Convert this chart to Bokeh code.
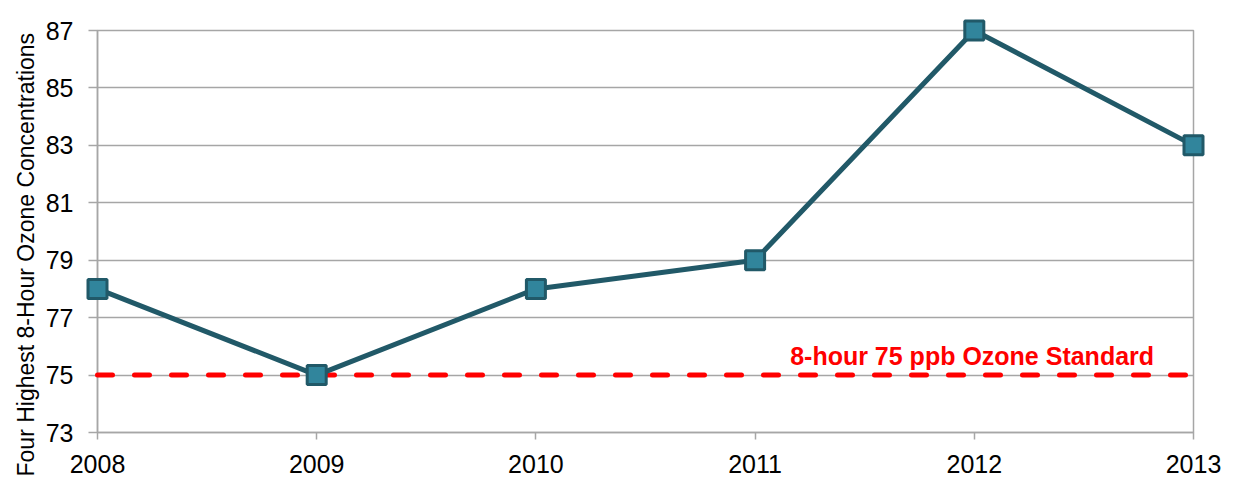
from bokeh.plotting import figure
from bokeh.models import Range1d, FixedTicker, Title, Label
from bokeh.embed import file_html
from bokeh.resources import INLINE

years = [2008, 2009, 2010, 2011, 2012, 2013]
ozone = [78, 75, 78, 79, 87, 83]
standard_years = [2008, 2013]
standard_value = [75, 75]
y_ticks = [73, 75, 77, 79, 81, 83, 85, 87]
y_label = "Four Highest 8-Hour Ozone Concentrations"
standard_label = "8-hour 75 ppb Ozone Standard"

FONT = "Liberation Sans"
GRID = "#A6A6A6"

p = figure(width=1230, height=495, output_backend="svg", toolbar_location=None,
           x_range=Range1d(2008, 2013), y_range=Range1d(73, 87),
           min_border_left=97, min_border_right=37, min_border_top=30, min_border_bottom=63)

p.background_fill_color = "white"
p.border_fill_color = "white"
p.outline_line_color = GRID
p.outline_line_width = 1.5

p.xgrid.visible = False
p.ygrid.ticker = FixedTicker(ticks=y_ticks)
p.ygrid.grid_line_color = GRID
p.ygrid.grid_line_width = 1.5

p.xaxis.ticker = FixedTicker(ticks=years)
p.yaxis.ticker = FixedTicker(ticks=y_ticks)
for ax in (p.xaxis, p.yaxis):
    ax.axis_line_color = GRID
    ax.axis_line_width = 1.5
    ax.major_tick_line_color = GRID
    ax.major_tick_line_width = 1.5
    ax.major_tick_in = 0
    ax.minor_tick_line_color = None
    ax.major_label_text_font = FONT
    ax.major_label_text_font_size = "25px"
    ax.major_label_text_color = "black"
p.xaxis.major_tick_out = 7
p.xaxis.major_label_standoff = 15
p.yaxis.major_tick_out = 9
p.yaxis.major_label_standoff = 15

title = Title(text=y_label, align="left", offset=-44, text_font=FONT,
              text_font_size="23px", text_font_style="normal", text_color="black",
              standoff=8)
p.add_layout(title, "left")

p.line(standard_years, standard_value, line_color="#FF0000", line_width=5,
       line_dash="15 22", line_cap="round", level="overlay")
p.line(years, ozone, line_color="#215968", line_width=5, level="overlay")
p.scatter(years, ozone, marker="square", size=19, fill_color="#31859C",
          line_color="#215968", line_width=3, level="overlay")

lbl = Label(x=2011.99, y=75, text=standard_label, text_font=FONT,
            text_font_size="25px", text_font_style="bold", text_color="#FF0000",
            text_align="center", text_baseline="alphabetic", y_offset=19)
p.add_layout(lbl)

open("out.html", "w").write(file_html(p, INLINE))
